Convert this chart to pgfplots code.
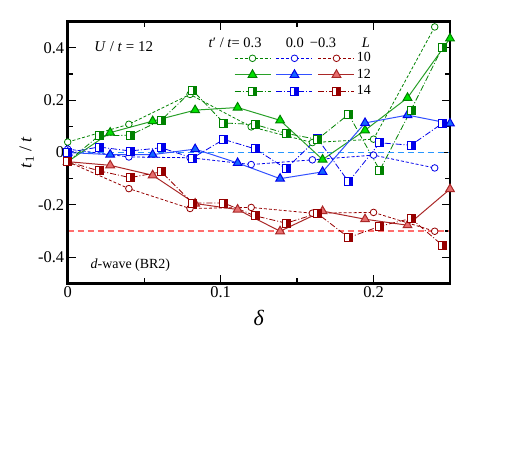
\documentclass[border=0pt]{standalone}
\usepackage{fontspec}
\setmainfont{Liberation Serif}
\usepackage{pgfplots}
\pgfplotsset{compat=1.18}

\definecolor{gD}{RGB}{0,130,0}
\definecolor{gL}{RGB}{0,225,0}
\definecolor{gT}{RGB}{40,160,40}
\definecolor{bD}{RGB}{0,0,235}
\definecolor{bL}{RGB}{20,100,255}
\definecolor{bT}{RGB}{50,80,255}
\definecolor{rD}{RGB}{150,0,0}
\definecolor{rL}{RGB}{230,110,110}
\definecolor{rT}{RGB}{170,40,40}
\definecolor{zline}{RGB}{40,150,255}
\definecolor{mline}{RGB}{255,110,110}

% square, right half filled
\newcommand\halfsq[2]{\pgfdeclareplotmark{#1}{%
  \pgfpathrectangle{\pgfpoint{-\pgfplotmarksize}{-\pgfplotmarksize}}{\pgfpoint{2\pgfplotmarksize}{2\pgfplotmarksize}}%
  \pgfsetfillcolor{white}\pgfusepathqfill
  \pgfpathrectangle{\pgfpoint{0pt}{-\pgfplotmarksize}}{\pgfpoint{\pgfplotmarksize}{2\pgfplotmarksize}}%
  \pgfsetfillcolor{#2}\pgfusepathqfill
  \pgfpathrectangle{\pgfpoint{-\pgfplotmarksize}{-\pgfplotmarksize}}{\pgfpoint{2\pgfplotmarksize}{2\pgfplotmarksize}}%
  \pgfusepathqstroke}}
\halfsq{hsqG}{gD}
\halfsq{hsqB}{bD}
\halfsq{hsqR}{rD}

\pgfplotsset{
  circ/.style={line width=0.8bp, dash pattern=on 3bp off 2bp, mark=*, mark size=3.3bp,
    mark options={solid, fill=white}},
  tri/.style={line width=1bp, mark=triangle*, mark size=5bp},
  sqr/.style={line width=0.8bp, dash pattern=on 6bp off 2bp on 1bp off 2bp, mark size=4bp,
    mark options={solid}},
}

\begin{document}
\begin{tikzpicture}
\begin{axis}[
    scale only axis,
    width=382.3bp, height=261.6bp,
    xmin=0, xmax=0.25, ymin=-0.5, ymax=0.5,
    xtick={0,0.1,0.2}, minor xtick={0.05,0.15},
    ytick={-0.4,-0.2,0,0.2,0.4}, minor ytick={-0.3,-0.1,0.1,0.3},
    tick align=inside,
    major tick length=8bp, minor tick length=5bp,
    tick style={line width=1.2bp, black},
    axis line style={line width=2.6bp},
    ticklabel style={font=\fontsize{16.5}{19}\selectfont},
    /pgf/number format/assume math mode=true,
    clip=false,
    legend image code/.code={\draw[mark repeat=2,mark phase=2] plot coordinates {(0bp,0bp)(18bp,0bp)(36bp,0bp)};},
    legend style={draw=none, fill=none, inner sep=0pt, outer sep=0pt,
      at={(rel axis cs:0.435,0.885)}, anchor=north west,
      column sep=2bp, row sep=3.5bp,
      nodes={inner sep=0pt, text height=10bp, text depth=3bp},
      font=\fontsize{14}{16}\selectfont},
    legend columns=3,
    legend cell align=left,
  ]
  % reference lines
  \addplot[forget plot, zline, line width=1.2bp, dash pattern=on 6bp off 4bp] coordinates {(0,0)(0.25,0)};
  \addplot[forget plot, mline, line width=1.2bp, dash pattern=on 6bp off 4bp] coordinates {(0,-0.3)(0.25,-0.3)};

  % L = 10
  \addplot[gD, circ] coordinates {
    (0,0.04)(0.04,0.108)(0.08,0.222)(0.12,0.098)(0.16,0.038)(0.2,0.051)(0.24,0.480)};
  \addlegendentry{\phantom{}}
  \addplot[bD, circ] coordinates {
    (0,0.013)(0.04,-0.017)(0.08,-0.02)(0.12,-0.046)(0.16,-0.028)(0.2,-0.01)(0.24,-0.059)};
  \addlegendentry{\phantom{}}
  \addplot[rD, circ] coordinates {
    (0,-0.035)(0.04,-0.138)(0.08,-0.214)(0.12,-0.21)(0.16,-0.232)(0.2,-0.229)(0.24,-0.301)};
  \addlegendentry{10}

  % L = 12
  \addplot[gT, tri, mark options={solid, draw=gD, fill=gL}] coordinates {
    (0,-0.035)(0.02778,0.076)(0.05556,0.12)(0.08333,0.162)(0.11111,0.172)
    (0.13889,0.123)(0.16667,-0.027)(0.19444,0.085)(0.22222,0.209)(0.25,0.436)};
  \addlegendentry{\phantom{}}
  \addplot[bT, tri, mark options={solid, draw=bD, fill=bL}] coordinates {
    (0,0)(0.02778,-0.008)(0.05556,-0.008)(0.08333,0.013)(0.11111,-0.04)
    (0.13889,-0.10)(0.16667,-0.074)(0.19444,0.113)(0.22222,0.143)(0.25,0.111)};
  \addlegendentry{\phantom{}}
  \addplot[rT, tri, mark options={solid, draw=rT, fill=rL}] coordinates {
    (0,-0.035)(0.02778,-0.049)(0.05556,-0.087)(0.08333,-0.195)(0.11111,-0.218)
    (0.13889,-0.301)(0.16667,-0.224)(0.19444,-0.255)(0.22222,-0.278)(0.25,-0.14)};
  \addlegendentry{12}

  % L = 14 (blue drawn first, below green)
  \addplot[forget plot, bD, sqr, mark=hsqB] coordinates {
    (0,0.0)(0.020408,0.021)(0.040816,0.006)(0.061224,0.018)(0.081633,-0.021)
    (0.102041,0.05)(0.122449,0.014)(0.142857,-0.062)(0.163265,0.054)(0.183673,-0.112)
    (0.204082,0.037)(0.224490,0.028)(0.244898,0.111)};
  \addplot[gD, sqr, mark=hsqG] coordinates {
    (0,-0.035)(0.020408,0.064)(0.040816,0.066)(0.061224,0.124)(0.081633,0.238)
    (0.102041,0.113)(0.122449,0.107)(0.142857,0.073)(0.163265,0.050)(0.183673,0.146)
    (0.204082,-0.068)(0.224490,0.162)(0.244898,0.40)};
  \addlegendentry{\phantom{}}
  \addlegendimage{bD, sqr, mark=hsqB}
  \addlegendentry{\phantom{}}
  \addplot[rD, sqr, mark=hsqR] coordinates {
    (0,-0.035)(0.020408,-0.07)(0.040816,-0.096)(0.061224,-0.074)(0.081633,-0.193)
    (0.102041,-0.193)(0.122449,-0.242)(0.142857,-0.27)(0.163265,-0.233)(0.183673,-0.325)
    (0.204082,-0.282)(0.224490,-0.252)(0.244898,-0.354)};
  \addlegendentry{14}

  % texts
  \node[anchor=base west, font=\fontsize{15}{18}\selectfont] at (axis cs:0.0152,0.387)
    {\textit{U} / \textit{t} = 12};
  \node[anchor=base west, font=\fontsize{14.5}{17}\selectfont] at (axis cs:0.0899,0.401)
    {\textit{t}′ / \textit{t}= 0.3};
  \node[anchor=base west, font=\fontsize{14.5}{17}\selectfont] at (axis cs:0.1403,0.401) {0.0};
  \node[anchor=base west, font=\fontsize{14.5}{17}\selectfont] at (axis cs:0.1561,0.401) {−0.3};
  \node[anchor=base west, font=\fontsize{14.5}{17}\selectfont] at (axis cs:0.1900,0.401) {\textit{L}};
  \node[anchor=base west, font=\fontsize{14}{17}\selectfont] at (axis cs:0.0127,-0.444)
    {\textit{d}-wave (BR2)};
  \node[font=\fontsize{22}{26}\selectfont] at ([yshift=-34.7bp]rel axis cs:0.5,0) {\textit{δ}};
  \node[rotate=90, font=\fontsize{18}{22}\selectfont] at ([xshift=-41bp]rel axis cs:0,0.5)
    {\textit{t}\textsubscript{1} / \textit{t}};

  % thick frame
  \draw[line width=2.6bp, line join=miter] (rel axis cs:0,0) rectangle (rel axis cs:1,1);

  \coordinate (A) at (rel axis cs:0,0);
  \coordinate (B) at (rel axis cs:1,1);
\end{axis}
\pgfresetboundingbox
\path ([shift={(-67.7bp,-191.7bp)}]A) rectangle ([shift={(68bp,21.7bp)}]B);
\end{tikzpicture}
\end{document}
